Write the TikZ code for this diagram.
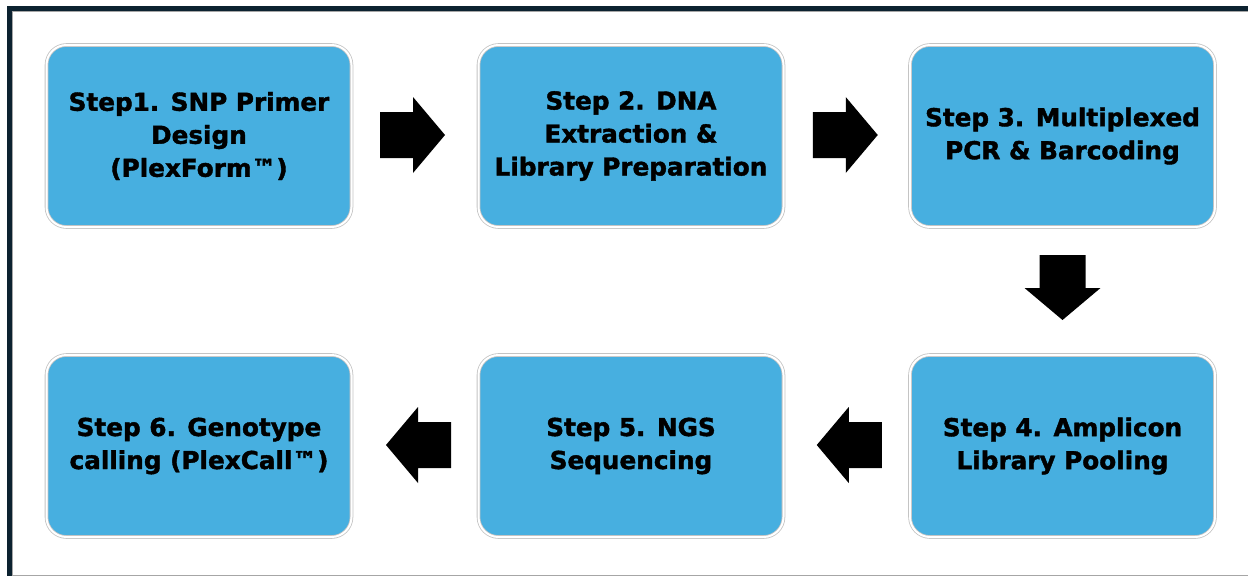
\documentclass[tikz,border=0pt]{standalone}
\usepackage{fontspec}
\setmainfont{DejaVu Sans}[BoldFeatures={FakeBold=1.6}]
\usetikzlibrary{calc}
\definecolor{stepblue}{HTML}{47AFE0}
\definecolor{framenavy}{HTML}{0C2230}
\definecolor{edgegray}{HTML}{C4C4C4}
\tikzset{
  stepbox/.style={rectangle, rounded corners=20pt, minimum width=305pt, minimum height=182pt,
    fill=stepblue, draw=edgegray, double=white, double distance=2pt, line width=0.8pt,
    align=center, inner sep=0pt, text=black,
    font=\bfseries\fontsize{24.7}{33}\selectfont},
  barrow/.pic={\fill[black] (-33,-23) -- (0,-23) -- (0,-38) -- (32,0) -- (0,38) -- (0,23) -- (-33,23) -- cycle;}
}
\begin{document}
\begin{tikzpicture}[x=1pt,y=-1pt]
\useasboundingbox (0,0) rectangle (1248,576);
% frame
\fill[framenavy] (7,6) rectangle (1248,10.5);
\fill[framenavy] (7,6) rectangle (11.5,576);
\draw[gray!70, line width=0.8pt] (11.5,11) -- (1248,11);
\draw[gray!70, line width=0.8pt] (12,11) -- (12,575);
\draw[gray!70, line width=0.8pt] (11.5,575) -- (1248,575);
% boxes
\node[stepbox] (s1) at (199,136) {Step1. SNP Primer\\Design\\(PlexForm™)};
\node[stepbox] (s2) at (631,136) {Step 2. DNA\\Extraction \&\\Library Preparation};
\node[stepbox] (s3) at (1062.5,136) {Step 3. Multiplexed\\PCR \& Barcoding};
\node[stepbox] (s4) at (1062.5,446) {Step 4. Amplicon\\Library Pooling};
\node[stepbox] (s5) at (631,446) {Step 5. NGS\\Sequencing};
\node[stepbox] (s6) at (199,446) {Step 6. Genotype\\calling (PlexCall™)};
% block arrows
\coordinate (a12) at ($(s1.east)!0.5!(s2.west)+(-2,-1)$);
\coordinate (a23) at ($(s2.east)!0.5!(s3.west)+(-1,-1)$);
\coordinate (a34) at ($(s3.south)!0.5!(s4.north)+(0,-3)$);
\coordinate (a45) at ($(s4.west)!0.5!(s5.east)+(2,-1)$);
\coordinate (a56) at ($(s5.west)!0.5!(s6.east)+(3,-1)$);
\pic at (a12) {barrow};
\pic at (a23) {barrow};
\pic[rotate=-90] at (a34) {barrow};
\pic[rotate=180] at (a45) {barrow};
\pic[rotate=180] at (a56) {barrow};
\end{tikzpicture}
\end{document}
